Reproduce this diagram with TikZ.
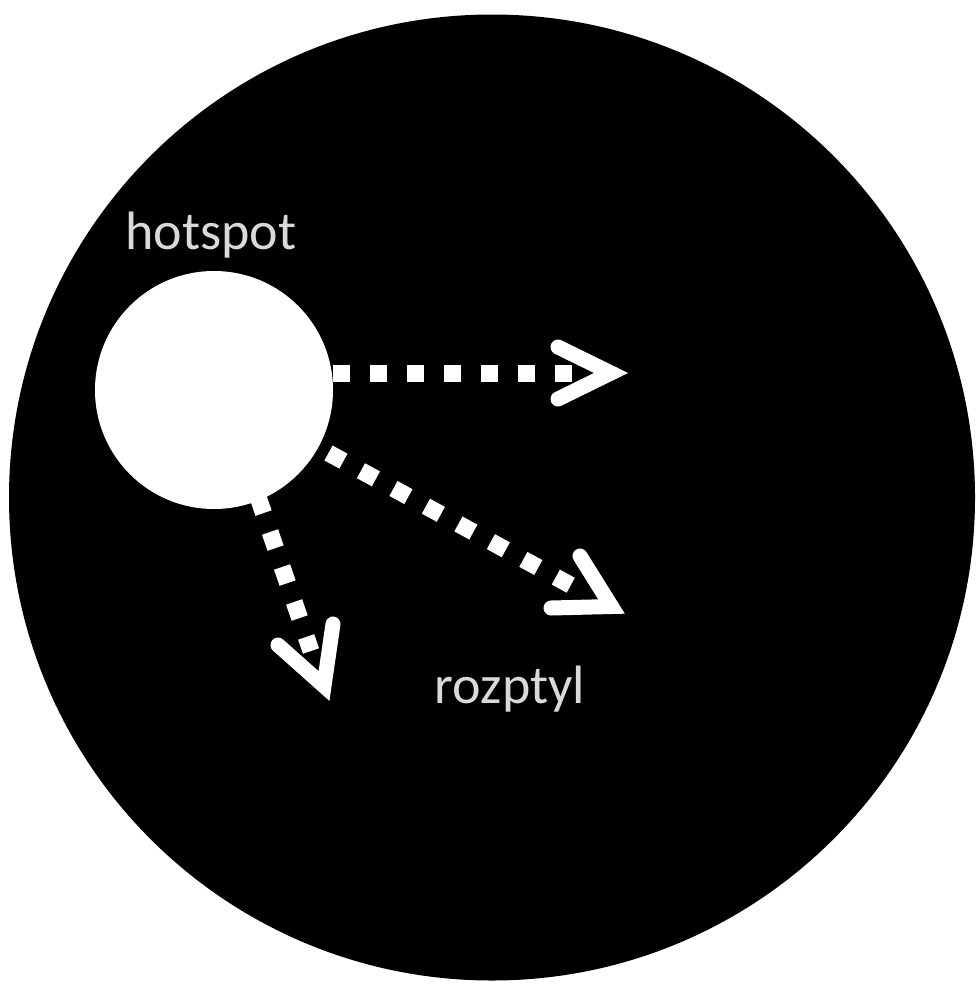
\documentclass[tikz,border=0pt]{standalone}
\usepackage{fontspec}
\setmainfont{Carlito}
\definecolor{labelgray}{HTML}{D9D9D9}
\begin{document}
\begin{tikzpicture}[x=1pt,y=-1pt,
  dotline/.style={draw=white,line width=17pt,dash pattern=on 17pt off 20pt},
  chev/.style={draw=white,line width=15pt,line cap=round,line join=miter},
  lbl/.style={text=labelgray,font=\fontsize{54}{64}\selectfont,anchor=base,inner sep=0pt}]
\useasboundingbox (0,0) rectangle (975,985);
\node[circle,fill=black,minimum size=966pt,inner sep=0pt] (disk) at (492,497.5) {};
\node[circle,fill=white,minimum size=238pt,inner sep=0pt] (hot) at (214,390) {};
\node[lbl] (hotlbl) at (211,249) {hotspot};
\node[lbl] (rozlbl) at (510,703) {rozptyl};
% arrow 1
\coordinate (a1s) at (333,373);
\coordinate (a1e) at (577,373);
\coordinate (a1t) at (611,373);
\coordinate (a1l) at (558,347);
\coordinate (a1r) at (558,399);
% arrow 2
\coordinate (a2s) at (328.5,453);
\coordinate (a2e) at (574,587);
\coordinate (a2t) at (611.5,606.5);
\coordinate (a2l) at (580,556);
\coordinate (a2r) at (551,608);
% arrow 3
\coordinate (a3s) at (258,497);
\coordinate (a3e) at (311,651);
\coordinate (a3t) at (324,686);
\coordinate (a3l) at (333,624);
\coordinate (a3r) at (278,645);
\draw[dotline] (a1s) -- (a1e);
\draw[chev] (a1l) -- (a1t) -- (a1r);
\draw[dotline] (a2s) -- (a2e);
\draw[chev] (a2l) -- (a2t) -- (a2r);
\draw[dotline] (a3s) -- (a3e);
\draw[chev] (a3l) -- (a3t) -- (a3r);
\end{tikzpicture}
\end{document}
